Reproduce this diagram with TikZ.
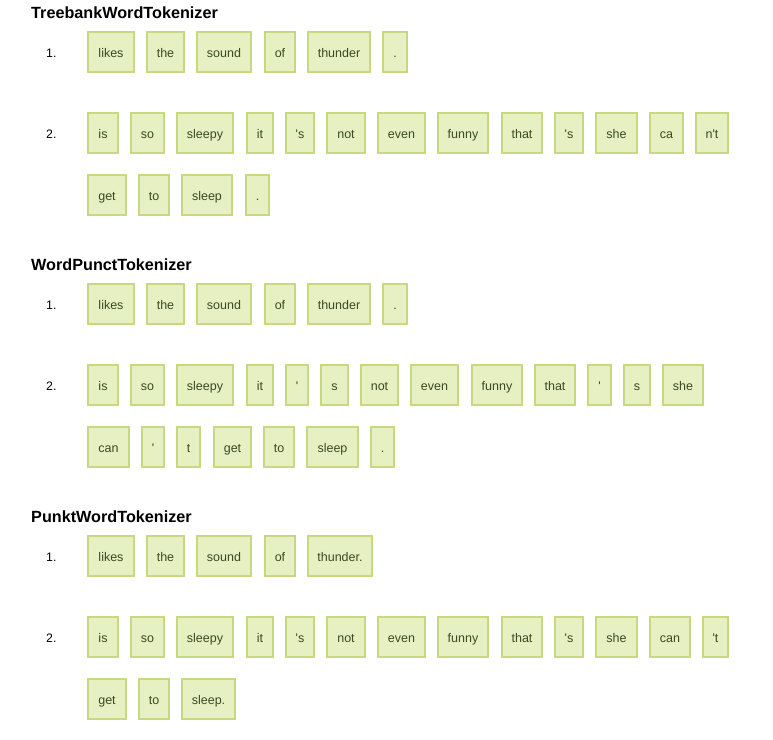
\documentclass[tikz,border=0pt]{standalone}
\usepackage{fontspec}
\setmainfont{Liberation Sans}[Ligatures=TeXOff]
\definecolor{tokfill}{HTML}{E6F0C3}
\definecolor{tokdraw}{HTML}{C6D97F}
\definecolor{toktext}{HTML}{3B4A22}
\tikzset{
  tokbox/.style={draw=tokdraw, fill=tokfill, line width=2pt, inner sep=0pt,
    text=toktext, font=\fontsize{12.5}{14}\selectfont, text height=10pt, text depth=0pt},
  header/.style={anchor=west, inner sep=0pt, font=\bfseries\fontsize{16.2}{19}\selectfont},
  numlabel/.style={anchor=west, inner sep=0pt, font=\fontsize{12.3}{14}\selectfont}
}
\newcommand{\tokrow}[4]{%
  \foreach \xa/\xb/\tt [count=\i] in {#4} {
    \node[tokbox, minimum width={(\xb-\xa-2)*1pt}, minimum height={(#3-#2-2)*1pt}]
      (#1-\i) at ({(\xa+\xb)/2-1}, {(#2+#3)/2}) {\tt};
  }%
}
\begin{document}
\begin{tikzpicture}[x=1pt, y=-1pt]
\useasboundingbox (0,0) rectangle (773,739);
% Treebank
\node[header] (h1) at (31,12.8) {TreebankWordTokenizer};
\node[numlabel] (t1n) at (46,53.3) {1.};
\tokrow{ta}{31}{73}{88/136/likes, 147/186/the, 197/253/sound, 265/297/of, 308/372/thunder, 383/409/.}
\node[numlabel] (t2n) at (46,134.3) {2.};
\tokrow{tb}{112}{154}{88/120/is, 131/166/so, 177/235/sleepy, 247/275/it, 286/316/'s, 327/367/not, 378/427/even, 438/490/funny, 502/544/that, 555/585/'s, 596/639/she, 650/685/ca, 696/730/n't}
\tokrow{tc}{174}{216}{88/128/get, 139/171/to, 182/234/sleep, 246/271/.}
% WordPunct
\node[header] (h2) at (31,264.8) {WordPunctTokenizer};
\node[numlabel] (w1n) at (46,305.3) {1.};
\tokrow{wa}{283}{325}{88/136/likes, 147/186/the, 197/253/sound, 265/297/of, 308/372/thunder, 383/409/.}
\node[numlabel] (w2n) at (46,386.3) {2.};
\tokrow{wb}{364}{406}{88/120/is, 131/166/so, 177/235/sleepy, 247/275/it, 286/310/', 321/350/s, 361/400/not, 411/460/even, 472/524/funny, 535/577/that, 588/613/', 624/652/s, 663/705/she}
\tokrow{wc}{426}{468}{88/131/can, 142/166/', 177/202/t, 214/253/get, 264/296/to, 307/360/sleep, 371/396/.}
% Punkt
\node[header] (h3) at (31,516.8) {PunktWordTokenizer};
\node[numlabel] (p1n) at (46,557.3) {1.};
\tokrow{pa}{535}{577}{88/136/likes, 147/186/the, 197/253/sound, 265/297/of, 308/374/thunder.}
\node[numlabel] (p2n) at (46,638.3) {2.};
\tokrow{pb}{616}{658}{88/120/is, 131/166/so, 177/235/sleepy, 247/275/it, 286/316/'s, 327/367/not, 378/427/even, 438/490/funny, 502/544/that, 555/585/'s, 596/639/she, 650/692/can, 703/730/'t}
\tokrow{pc}{678}{720}{88/128/get, 139/171/to, 182/237/sleep.}
\end{tikzpicture}
\end{document}
